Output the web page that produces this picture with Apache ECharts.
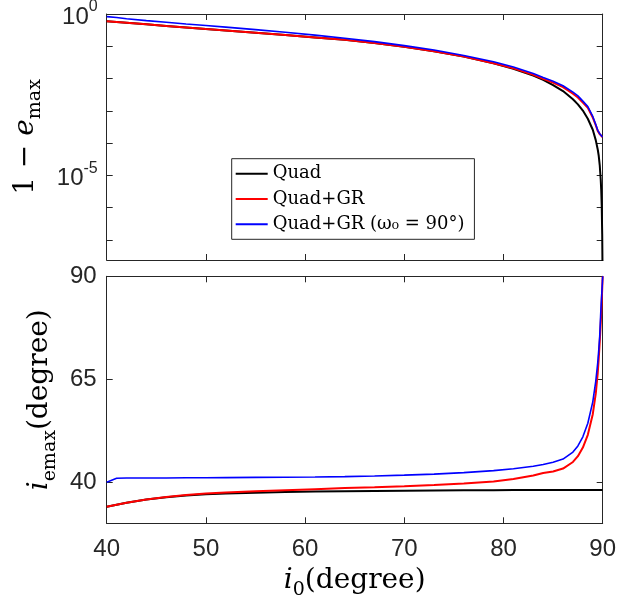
<!DOCTYPE html>
<html><head><meta charset="utf-8">
<script src="https://cdn.jsdelivr.net/npm/echarts@6/dist/echarts.min.js"></script>
<style>html,body{margin:0;padding:0;background:#fff}#c{width:642px;height:604px}</style>
</head><body><div id="c"></div>
<script>
// ---- data ----
const incl = [40,41,42,44,46,48,50,52,55,58,61,64,67,70,73,76,79,81,83,84,85,86,87,87.5,88,88.5,89,89.3,89.5,89.6,89.7,89.8,89.85,89.9,89.95,89.98,89.99,90];
// top panel: 1 - e_max
const quadE = [0.594,0.563,0.533,0.479,0.428,0.385,0.345,0.31,0.263,0.222,0.188,0.158,0.126,0.096,0.070,0.048,0.0298,0.0200,0.0124,0.0091,0.0063,0.0041,0.00229,0.00159,0.00102,0.00057,0.00026,0.000124,0.0000635,0.0000406,0.000021,0.0000075,0.0000036,0.0000012,1.5e-7,1.5e-8,1e-9,1e-10];
const grE = [0.594,0.563,0.533,0.479,0.428,0.385,0.345,0.31,0.263,0.222,0.188,0.158,0.126,0.096,0.070,0.048,0.030,0.0207,0.0130,0.0098,0.0075,0.0054,0.0034,0.0026,0.0018,0.00125,0.00062,0.00036,0.00024,0.00021,0.00019,0.000175,0.000168,0.000162,0.000157,0.000154,0.000153,0.000152];
const grOmegaE = [0.83,0.775,0.715,0.625,0.555,0.492,0.44,0.392,0.328,0.272,0.221,0.178,0.139,0.105,0.0765,0.052,0.033,0.0228,0.0143,0.0108,0.0083,0.0060,0.0038,0.0029,0.0020,0.00135,0.00067,0.00038,0.00025,0.000218,0.000196,0.00018,0.000172,0.000165,0.00016,0.000157,0.000156,0.000155];
// bottom panel: i_emax (degree)
const quadI = [34.0,34.5,35.0,35.8,36.35,36.75,37.05,37.25,37.45,37.6,37.7,37.8,37.87,37.93,37.98,38.02,38.05,38.07,38.08,38.09,38.1,38.1,38.1,38.1,38.1,38.1,38.1,38.1,38.1,38.1,38.1,38.1,38.1,38.1,38.1,38.1,38.1,38.1];
const grI = [34.0,34.5,35.0,35.8,36.4,36.9,37.25,37.5,37.8,38.05,38.3,38.55,38.75,39.0,39.3,39.65,40.15,40.75,41.6,42.2,42.6,43.3,44.9,46.3,48.4,51.5,56.5,61.5,66.5,70,74,78.5,81,84,87,88.8,89.4,90];
const grOmegaI = [40.0,40.95,41.0,41.0,41.02,41.05,41.08,41.1,41.15,41.2,41.25,41.35,41.5,41.7,41.95,42.3,42.8,43.25,43.85,44.3,44.85,45.6,47.3,48.8,51.0,54.3,59.5,64.5,69,72,75.5,81,83.3,85.5,87.7,89,89.5,90];
const seriesNames = ['Quad', 'Quad+GR', 'Quad+GR (\u03c9\u2080 = 90\u00b0)'];
const seriesColors = ['#000000', '#ff0000', '#0000ff'];
const xTickValues = [40, 50, 60, 70, 80, 90];
const logTickValues = [1, 1e-1, 1e-2, 1e-3, 1e-4, 1e-5, 1e-6, 1e-7];
const logLabelValues = [1, 1e-5];
const incTickValues = [40, 65, 90];

// ---- chart ----
const axisColor = '#262626';
const sans = 'Liberation Sans, Arial, Helvetica, sans-serif';
const serif = 'DejaVu Serif, Liberation Serif, serif';
const chart = echarts.init(document.getElementById('c'), null, {renderer: 'canvas'});

const tickStyle = {show: true, inside: true, length: 6, lineStyle: {color: axisColor, width: 1}};
const lineStyleAx = {show: true, onZero: false, lineStyle: {color: axisColor, width: 1}};

const richTitle = {
  n: {fontFamily: serif, fontSize: 28, color: '#000', verticalAlign: 'bottom', padding: [0, 0, 5, 0]},
  i: {fontFamily: serif, fontSize: 28, color: '#000', fontStyle: 'italic', verticalAlign: 'bottom', padding: [0, 0, 5, 0]},
  s: {fontFamily: serif, fontSize: 19, color: '#000', verticalAlign: 'bottom'}
};
function xAx(grid, pos, labels, name) {
  const a = {
    type: 'value', gridIndex: grid, position: pos, min: 40, max: 90, interval: 10,
    axisLine: lineStyleAx,
    axisTick: Object.assign({}, tickStyle, {customValues: xTickValues}),
    splitLine: {show: false},
    axisLabel: {show: labels, customValues: xTickValues, color: axisColor, fontFamily: sans, fontSize: 24, margin: 14}
  };
  if (name) {
    a.name = name; a.nameLocation = 'middle'; a.nameGap = 43;
    a.nameTextStyle = {color: '#000', fontFamily: serif, fontSize: 28, rich: richTitle};
  }
  return a;
}
function logAx(pos, labels, name) {
  const a = {
    type: 'log', logBase: 10, gridIndex: 0, position: pos, min: 2.4e-8, max: 1,
    axisLine: lineStyleAx,
    axisTick: Object.assign({}, tickStyle, {customValues: logTickValues}),
    minorTick: {show: false}, splitLine: {show: false},
    axisLabel: {
      show: labels, customValues: logLabelValues, margin: 9,
      formatter: v => '{b|10}{s|' + String(Math.round(Math.log10(v))) + '}',
      rich: {
        b: {fontFamily: sans, fontSize: 24, color: axisColor, verticalAlign: 'bottom'},
        s: {fontFamily: sans, fontSize: 16, color: axisColor, verticalAlign: 'bottom', padding: [0, 0, 14, 0]}
      }
    }
  };
  if (name) {
    a.name = name; a.nameLocation = 'middle'; a.nameRotate = 90; a.nameGap = 62;
    a.nameTextStyle = {color: '#000', fontFamily: serif, fontSize: 28, rich: richTitle};
  }
  return a;
}
function incAx(pos, labels, name) {
  const a = {
    type: 'value', gridIndex: 1, position: pos, min: 30, max: 90,
    axisLine: lineStyleAx,
    axisTick: Object.assign({}, tickStyle, {customValues: incTickValues}),
    splitLine: {show: false},
    axisLabel: {show: labels, customValues: incTickValues, color: axisColor, fontFamily: sans, fontSize: 24, margin: 10, padding: [6, 0, 0, 0]}
  };
  if (name) {
    a.name = name; a.nameLocation = 'middle'; a.nameRotate = 90; a.nameGap = 45;
    a.nameTextStyle = {color: '#000', fontFamily: serif, fontSize: 28, rich: richTitle};
  }
  return a;
}

const widths = [2, 2, 1.6];
const series = [];
const topVals = [quadE, grE, grOmegaE];
const botVals = [quadI, grI, grOmegaI];
for (let s = 0; s < 3; s++) {
  series.push({
    name: seriesNames[s], type: 'line', xAxisIndex: 0, yAxisIndex: 0,
    data: incl.map((x, k) => [x, topVals[s][k]]),
    symbol: 'none', showSymbol: false, clip: true, z: 2 + s,
    lineStyle: {color: seriesColors[s], width: widths[s]}, itemStyle: {color: seriesColors[s]}
  });
  series.push({
    name: seriesNames[s], type: 'line', xAxisIndex: 2, yAxisIndex: 2,
    data: incl.map((x, k) => [x, botVals[s][k]]),
    symbol: 'none', showSymbol: false, clip: true, z: 2 + s,
    lineStyle: {color: seriesColors[s], width: widths[s]}, itemStyle: {color: seriesColors[s]}
  });
}

chart.setOption({
  animation: false,
  backgroundColor: '#fff',
  grid: [
    {left: 106.7, top: 14, width: 496, height: 246, outerBoundsMode: 'none', containLabel: false},
    {left: 106.7, top: 276.3, width: 496, height: 247, outerBoundsMode: 'none', containLabel: false}
  ],
  xAxis: [
    xAx(0, 'bottom', false), xAx(0, 'top', false),
    xAx(1, 'bottom', true, '{i|i}{s|0}{n|(degree)}'), xAx(1, 'top', false)
  ],
  yAxis: [
    logAx('left', true, '{n|1 \u2212 }{i|e}{s|max}'), logAx('right', false),
    incAx('left', true, '{i|i}{s|emax}{n|(degree)}'), incAx('right', false)
  ],
  legend: {
    orient: 'vertical', left: 231.7, top: 158.7,
    itemWidth: 32, itemHeight: 14, itemGap: 5.3,
    padding: [5, 10, 5, 3],
    backgroundColor: '#fff', borderColor: axisColor, borderWidth: 1, borderRadius: 0,
    itemStyle: {opacity: 0},
    textStyle: {fontFamily: serif, fontSize: 18, color: '#000', lineHeight: 20},
    data: seriesNames, selectedMode: false
  },
  series: series
});
</script></body></html>
